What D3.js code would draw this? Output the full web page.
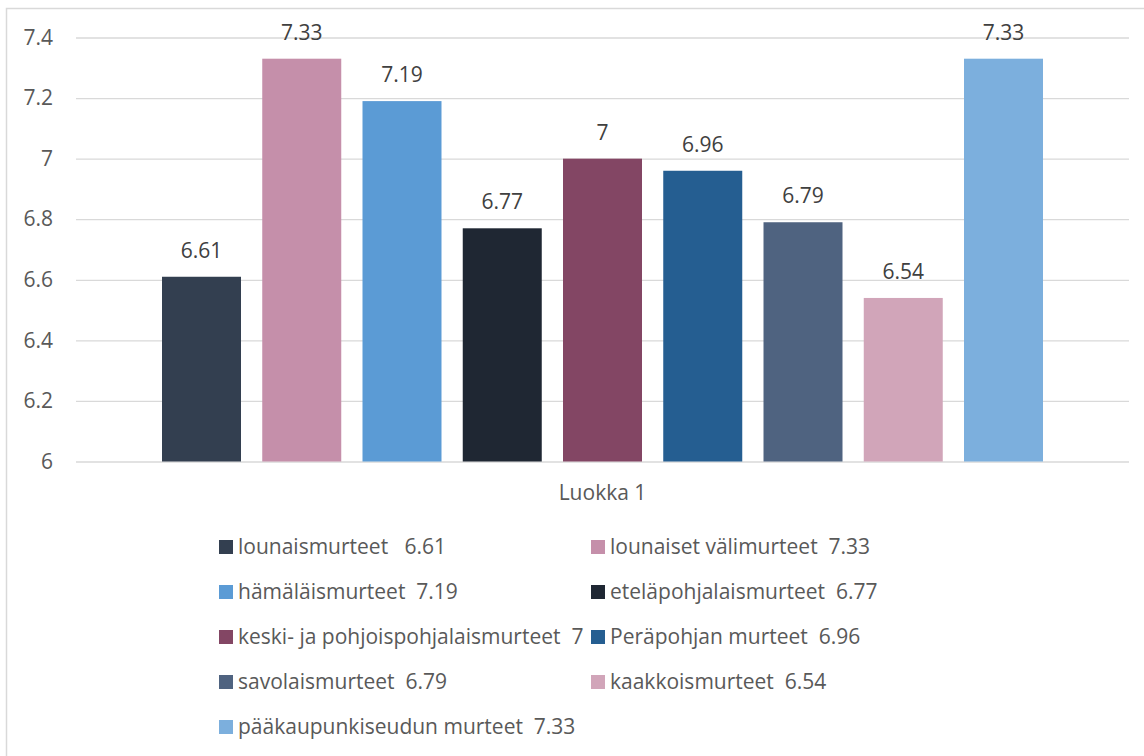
<!DOCTYPE html>
<html>
<head>
<meta charset="utf-8">
<script src="https://cdn.jsdelivr.net/npm/d3@7"></script>
<style>
  html, body { margin: 0; padding: 0; background: #fff; }
  svg { display: block; }
  text { font-family: "Open Sans", "Noto Sans", sans-serif; }
</style>
</head>
<body>
<svg id="chart" width="1144" height="756"></svg>
<script>
// Dialect groups and their mean scores
const seriesNames = [
  "lounaismurteet",
  "lounaiset välimurteet",
  "hämäläismurteet",
  "eteläpohjalaismurteet",
  "keski- ja pohjoispohjalaismurteet",
  "Peräpohjan murteet",
  "savolaismurteet",
  "kaakkoismurteet",
  "pääkaupunkiseudun murteet"
];
const values = [6.61, 7.33, 7.19, 6.77, 7, 6.96, 6.79, 6.54, 7.33];
const legendLabels = [
  "lounaismurteet   6.61",
  "lounaiset välimurteet  7.33",
  "hämäläismurteet  7.19",
  "eteläpohjalaismurteet  6.77",
  "keski- ja pohjoispohjalaismurteet  7",
  "Peräpohjan murteet  6.96",
  "savolaismurteet  6.79",
  "kaakkoismurteet  6.54",
  "pääkaupunkiseudun murteet  7.33"
];
const colors = [
  "#333f50", "#c58faa", "#5b9bd5", "#1f2733", "#834664",
  "#255e91", "#4f6380", "#d1a5b9", "#7cafdd"
];
const category = "Luokka 1";
const yTicks = [6, 6.2, 6.4, 6.6, 6.8, 7, 7.2, 7.4];

const fontSize = "21px";
const svg = d3.select("#chart");

// Outer chart frame
svg.append("rect")
  .attr("x", 6.5).attr("y", 8.5)
  .attr("width", 1160).attr("height", 780)
  .attr("fill", "none").attr("stroke", "#d9d9d9").attr("stroke-width", 1.5);

const plot = { left: 76, right: 1129, top: 37.5, bottom: 461.5 };

const y = d3.scaleLinear().domain([6, 7.4]).range([plot.bottom, plot.top]);

const xCat = d3.scaleBand().domain([category]).range([plot.left, plot.right]);

// Bars within the single category
const x = d3.scaleBand()
  .domain(seriesNames)
  .range([162, 1043])
  .paddingInner(0.212)
  .paddingOuter(0);

// Gridlines and value axis
const yAxis = d3.axisLeft(y)
  .tickValues(yTicks)
  .tickSize(-(plot.right - plot.left))
  .tickPadding(23)
  .tickFormat(d => d3.format("~g")(d));

const gy = svg.append("g")
  .attr("transform", `translate(${plot.left},0)`)
  .call(yAxis);
gy.select(".domain").remove();
gy.selectAll(".tick line").attr("stroke", "#d9d9d9").attr("stroke-width", 1.3);
gy.selectAll(".tick text")
  .attr("fill", "#595959")
  .style("font-size", fontSize);

// Bars
svg.append("g").selectAll("rect")
  .data(values)
  .join("rect")
  .attr("x", (d, i) => x(seriesNames[i]))
  .attr("y", d => y(d))
  .attr("width", x.bandwidth())
  .attr("height", d => y(6) - y(d))
  .attr("fill", (d, i) => colors[i]);

// Value labels
svg.append("g").selectAll("text")
  .data(values)
  .join("text")
  .attr("x", (d, i) => x(seriesNames[i]) + x.bandwidth() / 2)
  .attr("y", d => y(d) - 19)
  .attr("text-anchor", "middle")
  .attr("fill", "#404040")
  .style("font-size", fontSize)
  .text(d => d3.format("~g")(d));

// Category axis label
svg.append("text")
  .attr("x", xCat(category) + xCat.bandwidth() / 2)
  .attr("y", 500)
  .attr("text-anchor", "middle")
  .attr("fill", "#595959")
  .style("font-size", fontSize)
  .text(category);

// Legend in two columns
const legendCols = [219, 591];
const legendRow0 = 547, legendRowStep = 45;
const lg = svg.append("g").selectAll("g")
  .data(legendLabels)
  .join("g")
  .attr("transform", (d, i) =>
    `translate(${legendCols[i % 2]},${legendRow0 + Math.floor(i / 2) * legendRowStep})`);
lg.append("rect")
  .attr("x", 0).attr("y", -7)
  .attr("width", 14).attr("height", 14)
  .attr("fill", (d, i) => colors[i]);
lg.append("text")
  .attr("x", 19).attr("y", 0)
  .attr("dy", "0.35em")
  .attr("fill", "#595959")
  .style("font-size", fontSize)
  .style("white-space", "pre")
  .text(d => d);
</script>
</body>
</html>
